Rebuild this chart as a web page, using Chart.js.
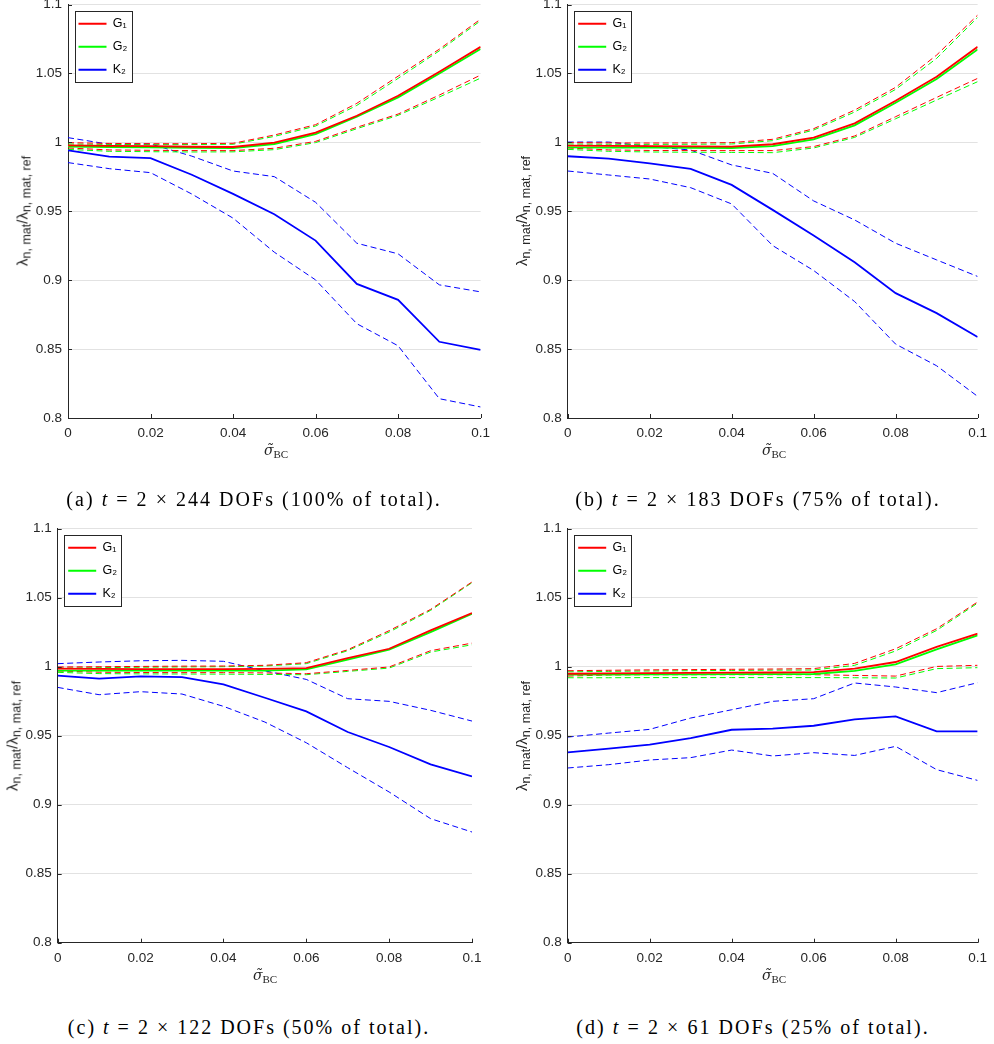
<!DOCTYPE html>
<html>
<head>
<meta charset="utf-8">
<script src="https://cdn.jsdelivr.net/npm/chart.js@4.4.1/dist/chart.umd.min.js"></script>
<style>
  html, body { margin: 0; padding: 0; background: #fff; }
  body { position: relative; width: 994px; height: 1044px; overflow: hidden; }
  canvas { position: absolute; }
  .cap { position: absolute; font-family: "Liberation Serif", "DejaVu Serif", serif; font-size: 20px; color: #000; white-space: nowrap; transform: translate(-50%, -50%); }
  .ylab { position: absolute; font-family: "Liberation Sans", Arial, sans-serif; font-size: 15px; color: #262626; white-space: nowrap; transform: translate(-50%, -50%) rotate(-90deg); }
  .ylab sub { font-size: 12.5px; vertical-align: -3px; line-height: 0; }
  .xlab { position: absolute; white-space: nowrap; color: #262626; transform: translate(-50%, -50%); }
  .xlab .s { font-family: "DejaVu Serif", "Liberation Serif", serif; font-style: italic; font-size: 14px; }
  .xlab sub { font-family: "Liberation Serif", serif; font-size: 11px; vertical-align: -3px; line-height: 0; }
</style>
</head>
<body>
<canvas id="ca" width="497" height="480" style="left:0px;top:-12px"></canvas>
<canvas id="cb" width="497" height="480" style="left:497px;top:-12px"></canvas>
<canvas id="cc" width="497" height="480" style="left:0px;top:510px"></canvas>
<canvas id="cd" width="497" height="480" style="left:497px;top:510px"></canvas>

<div class="ylab" style="left:22px;top:211px">λ<sub>n, mat</sub>/λ<sub>n, mat, ref</sub></div>
<div class="ylab" style="left:521px;top:211px">λ<sub>n, mat</sub>/λ<sub>n, mat, ref</sub></div>
<div class="ylab" style="left:12px;top:736px">λ<sub>n, mat</sub>/λ<sub>n, mat, ref</sub></div>
<div class="ylab" style="left:521px;top:736px">λ<sub>n, mat</sub>/λ<sub>n, mat, ref</sub></div>

<div class="xlab" style="left:276px;top:450px"><span class="s">σ̃</span><sub>BC</sub></div>
<div class="xlab" style="left:774px;top:450px"><span class="s">σ̃</span><sub>BC</sub></div>
<div class="xlab" style="left:265px;top:975px"><span class="s">σ̃</span><sub>BC</sub></div>
<div class="xlab" style="left:774px;top:975px"><span class="s">σ̃</span><sub>BC</sub></div>

<div class="cap" data-w="375" style="left:254px;top:499px">(a) <i>t</i> = 2 × 244 DOFs (100% of total).</div>
<div class="cap" data-w="365" style="left:758px;top:499px">(b) <i>t</i> = 2 × 183 DOFs (75% of total).</div>
<div class="cap" data-w="362" style="left:249px;top:1027px">(c) <i>t</i> = 2 × 122 DOFs (50% of total).</div>
<div class="cap" data-w="353" style="left:753px;top:1027px">(d) <i>t</i> = 2 × 61 DOFs (25% of total).</div>

<script>
// ---------------- DATA ----------------
const sigmaBC = [0, 0.01, 0.02, 0.03, 0.04, 0.05, 0.06, 0.07, 0.08, 0.09, 0.1];
const xTicks = [0, 0.02, 0.04, 0.06, 0.08, 0.1];
const yTicks = [0.8, 0.85, 0.9, 0.95, 1, 1.05, 1.1];
const legendNames = ['G₁', 'G₂', 'K₂'];

// (a) 100%
const a_G1    = [0.9978, 0.9975, 0.9972, 0.9968, 0.9966, 0.9998, 1.0070, 1.0193, 1.0338, 1.0512, 1.0693];
const a_G2    = [0.9969, 0.9966, 0.9963, 0.9960, 0.9959, 0.9988, 1.0060, 1.0186, 1.0326, 1.0500, 1.0677];
const a_G1_hi = [0.9998, 0.9992, 0.9990, 0.9990, 0.9993, 1.0053, 1.0128, 1.0283, 1.0480, 1.0676, 1.0894];
const a_G2_hi = [0.9988, 0.9985, 0.9983, 0.9984, 0.9986, 1.0043, 1.0118, 1.0268, 1.0464, 1.0664, 1.0882];
const a_G1_lo = [0.9959, 0.9945, 0.9942, 0.9940, 0.9940, 0.9957, 1.0007, 1.0109, 1.0205, 1.0343, 1.0488];
const a_G2_lo = [0.9949, 0.9935, 0.9932, 0.9930, 0.9931, 0.9947, 0.9998, 1.0099, 1.0196, 1.0329, 1.0466];
const a_K2    = [0.9942, 0.9896, 0.9886, 0.9765, 0.9626, 0.9478, 0.9287, 0.8973, 0.8857, 0.8553, 0.8495];
const a_K2_hi = [1.0034, 0.9986, 0.9988, 0.9900, 0.9792, 0.9751, 0.9565, 0.9268, 0.9191, 0.8966, 0.8915];
const a_K2_lo = [0.9853, 0.9809, 0.9780, 0.9625, 0.9450, 0.9203, 0.9002, 0.8684, 0.8524, 0.8140, 0.8080];

// (b) 75%
const b_G1    = [0.9976, 0.9974, 0.9972, 0.9970, 0.9969, 0.9986, 1.0034, 1.0138, 1.0302, 1.0476, 1.0693];
const b_G2    = [0.9964, 0.9962, 0.9961, 0.9960, 0.9959, 0.9973, 1.0022, 1.0123, 1.0287, 1.0459, 1.0674];
const b_G1_hi = [0.9998, 0.9996, 0.9995, 0.9996, 0.9998, 1.0022, 1.0099, 1.0234, 1.0399, 1.0633, 1.0923];
const b_G2_hi = [0.9988, 0.9986, 0.9985, 0.9986, 0.9988, 1.0012, 1.0089, 1.0220, 1.0384, 1.0609, 1.0906];
const b_G1_lo = [0.9959, 0.9945, 0.9941, 0.9940, 0.9940, 0.9940, 0.9969, 1.0046, 1.0186, 1.0326, 1.0464];
const b_G2_lo = [0.9949, 0.9935, 0.9930, 0.9928, 0.9927, 0.9925, 0.9959, 1.0036, 1.0171, 1.0307, 1.0440];
const b_K2    = [0.9899, 0.9882, 0.9848, 0.9807, 0.9691, 0.9510, 0.9324, 0.9130, 0.8906, 0.8761, 0.8587];
const b_K2_hi = [1.0002, 1.0002, 0.9970, 0.9944, 0.9836, 0.9775, 0.9575, 0.9437, 0.9268, 0.9147, 0.9027];
const b_K2_lo = [0.9792, 0.9763, 0.9734, 0.9671, 0.9553, 0.9251, 0.9070, 0.8845, 0.8536, 0.8379, 0.8157];

// (c) 50%
const c_G1    = [0.9986, 0.9984, 0.9983, 0.9983, 0.9983, 0.9984, 0.9990, 1.0063, 1.0130, 1.0263, 1.0389];
const c_G2    = [0.9971, 0.9971, 0.9971, 0.9971, 0.9971, 0.9972, 0.9981, 1.0051, 1.0123, 1.0251, 1.0384];
const c_G1_hi = [0.9998, 1.0000, 1.0002, 1.0004, 1.0005, 1.0010, 1.0029, 1.0123, 1.0261, 1.0415, 1.0614];
const c_G2_hi = [0.9990, 0.9993, 0.9996, 0.9998, 1.0000, 1.0005, 1.0022, 1.0116, 1.0251, 1.0408, 1.0609];
const c_G1_lo = [0.9969, 0.9960, 0.9958, 0.9957, 0.9957, 0.9955, 0.9949, 0.9973, 0.9998, 1.0116, 1.0171];
const c_G2_lo = [0.9959, 0.9950, 0.9948, 0.9947, 0.9946, 0.9944, 0.9942, 0.9966, 0.9990, 1.0106, 1.0159];
const c_K2    = [0.9935, 0.9913, 0.9930, 0.9925, 0.9872, 0.9775, 0.9676, 0.9527, 0.9418, 0.9292, 0.9205];
const c_K2_hi = [1.0022, 1.0034, 1.0043, 1.0046, 1.0039, 0.9970, 0.9908, 0.9768, 0.9749, 0.9684, 0.9606];
const c_K2_lo = [0.9850, 0.9797, 0.9819, 0.9802, 0.9713, 0.9599, 0.9449, 0.9268, 0.9092, 0.8899, 0.8802];

// (d) 25%
const d_G1    = [0.9949, 0.9952, 0.9954, 0.9955, 0.9957, 0.9958, 0.9961, 0.9986, 1.0034, 1.0143, 1.0239];
const d_G2    = [0.9942, 0.9943, 0.9944, 0.9945, 0.9946, 0.9946, 0.9947, 0.9969, 1.0017, 1.0126, 1.0227];
const d_G1_hi = [0.9971, 0.9974, 0.9977, 0.9979, 0.9981, 0.9983, 0.9986, 1.0024, 1.0130, 1.0275, 1.0469];
const d_G2_hi = [0.9963, 0.9966, 0.9969, 0.9971, 0.9973, 0.9975, 0.9976, 1.0010, 1.0114, 1.0263, 1.0461];
const d_G1_lo = [0.9932, 0.9940, 0.9942, 0.9942, 0.9942, 0.9942, 0.9942, 0.9937, 0.9932, 1.0002, 1.0010];
const d_G2_lo = [0.9920, 0.9920, 0.9921, 0.9921, 0.9921, 0.9921, 0.9921, 0.9920, 0.9918, 0.9986, 0.9993];
const d_K2    = [0.9379, 0.9406, 0.9435, 0.9483, 0.9543, 0.9551, 0.9572, 0.9618, 0.9640, 0.9531, 0.9531];
const d_K2_hi = [0.9490, 0.9519, 0.9546, 0.9628, 0.9688, 0.9749, 0.9768, 0.9882, 0.9853, 0.9812, 0.9884];
const d_K2_lo = [0.9266, 0.9290, 0.9324, 0.9341, 0.9396, 0.9353, 0.9377, 0.9357, 0.9423, 0.9254, 0.9176];

// ---------------- STYLE / LAYOUT ----------------
const RED = '#ff0000', GREEN = '#00ff00', BLUE = '#0000ff';
const AXIS = '#262626', GRID = '#e2e2e2';
const SOLID_W = 1.8, DASH_W = 1, DASH = [6, 3.5];

const panels = [
  { id: 'ca', yw: 68,   pad: { left: 0, top: 16.5, right: 14, bottom: 10 }, xh: 40, lgTop: 19,
    s: [a_G1, a_G2, a_K2, a_G1_hi, a_G1_lo, a_G2_hi, a_G2_lo, a_K2_hi, a_K2_lo] },
  { id: 'cb', yw: 70.7, pad: { left: 0, top: 16.5, right: 13, bottom: 10 }, xh: 40, lgTop: 19,
    s: [b_G1, b_G2, b_K2, b_G1_hi, b_G1_lo, b_G2_hi, b_G2_lo, b_K2_hi, b_K2_lo] },
  { id: 'cc', yw: 57.7, pad: { left: 0, top: 18.7, right: 25, bottom: 7.3 }, xh: 40, lgTop: 21,
    s: [c_G1, c_G2, c_K2, c_G1_hi, c_G1_lo, c_G2_hi, c_G2_lo, c_K2_hi, c_K2_lo] },
  { id: 'cd', yw: 70.7, pad: { left: 0, top: 18.7, right: 13, bottom: 7.3 }, xh: 40, lgTop: 21,
    s: [d_G1, d_G2, d_K2, d_G1_hi, d_G1_lo, d_G2_hi, d_G2_lo, d_K2_hi, d_K2_lo] }
];

function pts(arr) { return arr.map((y, i) => ({ x: sigmaBC[i], y: y })); }
const fmt = v => String(+(+v).toFixed(4));

const innerTicks = {
  id: 'innerTicks',
  afterDatasetsDraw(chart) {
    const { ctx, chartArea: ca, scales: { x, y } } = chart;
    ctx.save();
    ctx.strokeStyle = AXIS; ctx.lineWidth = 1;
    ctx.beginPath();
    x.ticks.forEach(t => { const px = Math.round(x.getPixelForValue(t.value)) + 0.5; ctx.moveTo(px, ca.bottom); ctx.lineTo(px, ca.bottom - 4); });
    y.ticks.forEach(t => { const py = Math.round(y.getPixelForValue(t.value)) + 0.5; ctx.moveTo(ca.left, py); ctx.lineTo(ca.left + 4, py); });
    ctx.stroke();
    ctx.restore();
  }
};

const legendFrame = {
  id: 'legendFrame',
  beforeDraw(chart) {
    const lg = chart.legend;
    if (!lg || lg.__framed) return;
    const orig = lg.draw;
    lg.draw = function (area) {
      const hb = this.legendHitBoxes || [];
      if (hb.length) {
        let l = Infinity, t = Infinity, r = -Infinity, b = -Infinity;
        hb.forEach(h => { l = Math.min(l, h.left); t = Math.min(t, h.top); r = Math.max(r, h.left + h.width); b = Math.max(b, h.top + h.height); });
        const ctx = chart.ctx;
        ctx.save();
        const bx = Math.round(l - 4) + 0.5, by = Math.round(t - 6.5) + 0.5;
        const bw = Math.round(r - l + 8), bh = Math.round(b - t + 12.5);
        ctx.fillStyle = '#fff';
        ctx.fillRect(bx, by, bw, bh);
        ctx.strokeStyle = AXIS; ctx.lineWidth = 1;
        ctx.strokeRect(bx, by, bw, bh);
        ctx.restore();
      }
      orig.call(this, area);
    };
    lg.__framed = true;
  }
};

const tickFont = { family: '"Liberation Sans", Arial, sans-serif', size: 13.5 };

panels.forEach(p => {
  const [G1, G2, K2, G1hi, G1lo, G2hi, G2lo, K2hi, K2lo] = p.s;
  const solid = (lbl, d, c) => ({ label: lbl, data: pts(d), borderColor: c, backgroundColor: c, borderWidth: SOLID_W, fill: false });
  const dashed = (d, c) => ({ label: '', data: pts(d), borderColor: c, backgroundColor: c, borderWidth: DASH_W, borderDash: DASH, fill: false });
  const datasets = [
    solid(legendNames[0], G1, RED),
    solid(legendNames[1], G2, GREEN),
    solid(legendNames[2], K2, BLUE),
    dashed(G1hi, RED), dashed(G1lo, RED),
    dashed(G2hi, GREEN), dashed(G2lo, GREEN),
    dashed(K2hi, BLUE), dashed(K2lo, BLUE)
  ];
  new Chart(document.getElementById(p.id), {
    type: 'line',
    data: { datasets },
    plugins: [innerTicks, legendFrame],
    options: {
      responsive: false,
      animation: false,
      devicePixelRatio: 1,
      events: [],
      layout: { padding: p.pad },
      elements: { point: { radius: 0 }, line: { tension: 0 } },
      plugins: {
        tooltip: { enabled: false },
        legend: {
          position: 'chartArea',
          align: 'start',
          title: { display: true, text: '', padding: { top: p.lgTop - 1, bottom: 0 }, font: { size: 1, lineHeight: 1 } },
          labels: {
            usePointStyle: true,
            pointStyle: 'line',
            pointStyleWidth: 28,
            padding: 10.5,
            color: '#000',
            font: { family: '"Liberation Sans", Arial, sans-serif', size: 12.5 },
            filter: item => item.text !== ''
          }
        }
      },
      scales: {
        x: {
          type: 'linear', min: 0, max: 0.1,
          afterBuildTicks: s => { s.ticks = xTicks.map(v => ({ value: v })); },
          afterFit: s => { s.height = p.xh; },
          ticks: { callback: fmt, padding: 7, color: AXIS, font: tickFont, maxRotation: 0, autoSkip: false },
          grid: { display: false, drawTicks: false },
          border: { display: true, color: AXIS, width: 1 }
        },
        y: {
          type: 'linear', min: 0.8, max: 1.1,
          afterBuildTicks: s => { s.ticks = yTicks.map(v => ({ value: v })); },
          afterFit: s => { s.width = p.yw; },
          ticks: { callback: fmt, padding: 6, color: AXIS, font: tickFont, autoSkip: false },
          grid: { color: GRID, lineWidth: 1, drawTicks: false },
          border: { display: true, color: AXIS, width: 1 }
        }
      }
    }
  });
});

// fit caption widths to the reference
function fitCaptions() {
  document.querySelectorAll('.cap[data-w]').forEach(el => {
    el.style.letterSpacing = '0px';
    const target = +el.dataset.w;
    const w = el.offsetWidth;
    const n = el.textContent.length;
    el.style.letterSpacing = ((target - w) / n).toFixed(3) + 'px';
  });
}
fitCaptions();
if (document.fonts && document.fonts.ready) document.fonts.ready.then(fitCaptions);
</script>
</body>
</html>
